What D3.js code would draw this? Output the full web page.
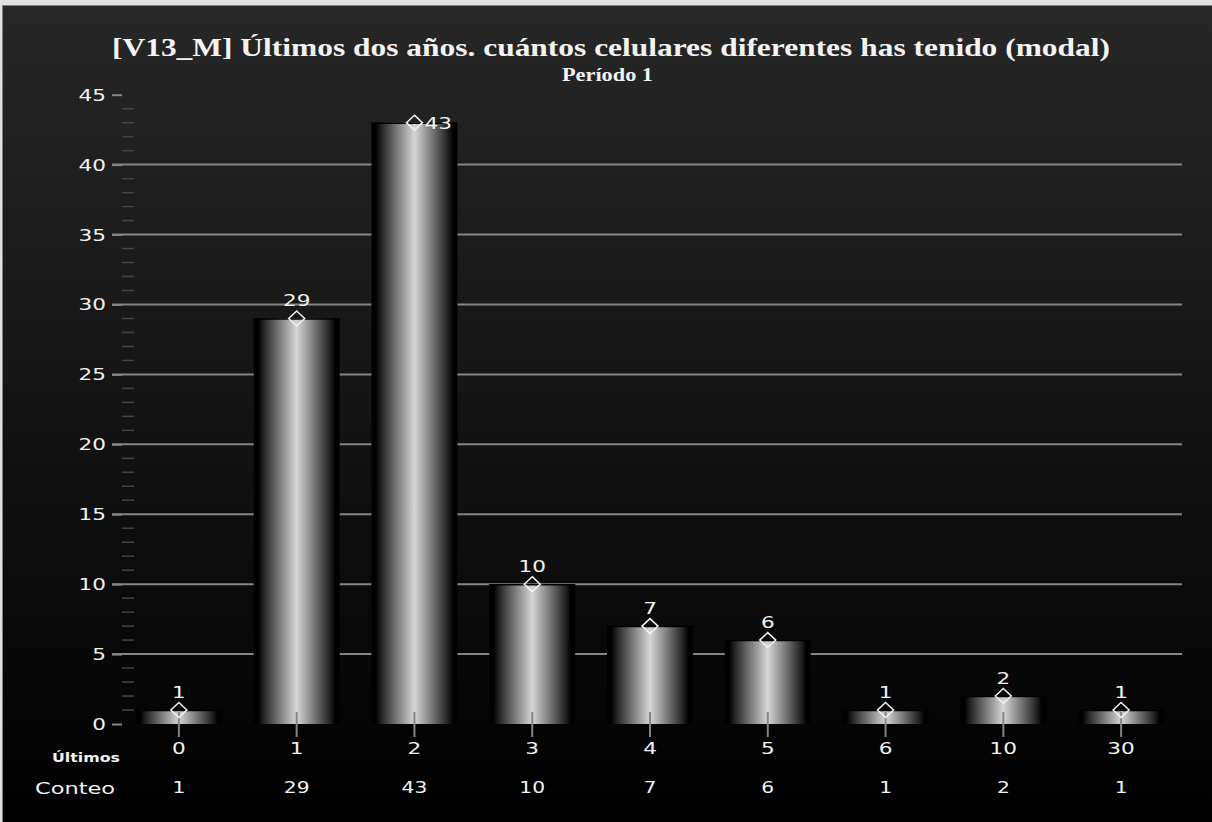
<!DOCTYPE html>
<html><head><meta charset="utf-8">
<script src="https://cdn.jsdelivr.net/npm/d3@7"></script>
<style>html,body{margin:0;padding:0;background:#e0e0e0;}svg{display:block;}</style>
</head><body>
<script>
const categories = ["0","1","2","3","4","5","6","10","30"];
const counts = [1,29,43,10,7,6,1,2,1];
const yTicks = [0,5,10,15,20,25,30,35,40,45];
const title = "[V13_M] Últimos dos años. cuántos celulares diferentes has tenido (modal)";
const subtitle = "Período 1";
const rowLabelCat = "Últimos";
const rowLabelCount = "Conteo";

const W = 1212, H = 822;
const svg = d3.select("body").append("svg").attr("width", W).attr("height", H);
const defs = svg.append("defs");

const bg = defs.append("linearGradient").attr("id","bg").attr("x1",0).attr("y1",0).attr("x2",0).attr("y2",1);
bg.append("stop").attr("offset","0%").attr("stop-color","#272727");
bg.append("stop").attr("offset","100%").attr("stop-color","#000");

const bar = defs.append("linearGradient").attr("id","bar").attr("x1",0).attr("y1",0).attr("x2",1).attr("y2",0);
[[0,"#000"],[0.05,"#000"],[0.12,"#262626"],[0.3,"#7a7a7a"],[0.5,"#d6d6d6"],[0.7,"#7a7a7a"],[0.88,"#262626"],[0.95,"#000"],[1,"#000"]]
  .forEach(([o,c]) => bar.append("stop").attr("offset", o).attr("stop-color", c));

// frame
svg.append("rect").attr("x",0).attr("y",0).attr("width",W).attr("height",H).attr("fill","#e0e0e0");
svg.append("rect").attr("x",2).attr("y",5).attr("width",W-2).attr("height",H-5).attr("fill","#808080");
svg.append("rect").attr("x",3).attr("y",6).attr("width",W-3).attr("height",H-6).attr("fill","url(#bg)");

const x = d3.scaleBand().domain(categories).range([120, 1180]).paddingInner(0.27).paddingOuter(0.135);
const y = d3.scaleLinear().domain([0,45]).range([724, 94.7]);

const sans = "'DejaVu Sans', sans-serif";
const SX = 1.35;
function wideText(g, tx, ty, txt, size, anchor, weight) {
  return g.append("text")
    .attr("transform", `translate(${tx},${ty}) scale(${SX},1)`)
    .attr("text-anchor", anchor)
    .attr("font-family", sans)
    .attr("font-size", size)
    .attr("font-weight", weight || "normal")
    .attr("fill", "#f2f2f2")
    .text(txt);
}

// gridlines
svg.append("g").selectAll("line").data(yTicks.filter(t => t > 0 && t < 45)).join("line")
  .attr("x1",112).attr("x2",1182).attr("y1",d=>y(d)).attr("y2",d=>y(d))
  .attr("stroke","#858585").attr("stroke-width",2);

// y axis major ticks
const yAxis = d3.axisLeft(y).tickValues(yTicks).tickSize(0).tickPadding(0);
const yg = svg.append("g").attr("transform","translate(112,0)").call(yAxis);
yg.select(".domain").remove();
yg.selectAll(".tick text").remove();
yg.selectAll(".tick").append("line").attr("x1",0).attr("x2",10).attr("stroke","#858585").attr("stroke-width",2);
yTicks.forEach(t => wideText(svg, 106, y(t)+6, String(t), 16, "end"));

// minor ticks
const minor = d3.range(0,46).filter(v => v % 5 !== 0);
svg.append("g").selectAll("line").data(minor).join("line")
  .attr("x1",122).attr("x2",134).attr("y1",d=>y(d)).attr("y2",d=>y(d))
  .attr("stroke","#444").attr("stroke-width",1.5);

// bars
svg.append("g").selectAll("rect").data(counts).join("rect")
  .attr("x",(d,i)=>x(categories[i])).attr("width",x.bandwidth())
  .attr("y",d=>y(d)).attr("height",d=>y(0)-y(d))
  .attr("fill","url(#bar)");
svg.append("g").selectAll("line").data(counts).join("line")
  .attr("x1",(d,i)=>x(categories[i])).attr("x2",(d,i)=>x(categories[i])+x.bandwidth())
  .attr("y1",d=>y(d)+0.5).attr("y2",d=>y(d)+0.5).attr("stroke","#000").attr("stroke-width",1.5);

// x ticks
const cx = c => x(c) + x.bandwidth()/2;
svg.append("g").selectAll("line").data(categories).join("line")
  .attr("x1",cx).attr("x2",cx).attr("y1",712).attr("y2",737)
  .attr("stroke","#858585").attr("stroke-width",2);

// diamonds
svg.append("g").selectAll("path").data(counts).join("path")
  .attr("d",(d,i)=>{const X=cx(categories[i]), Y=y(d); return `M${X},${Y-7.5}L${X+8},${Y}L${X},${Y+7.5}L${X-8},${Y}Z`;})
  .attr("fill","none").attr("stroke","#f2f2f2").attr("stroke-width",1.5);

// value labels
counts.forEach((d,i) => {
  const X = cx(categories[i]), Y = y(d);
  if (Y - 30 < y(45)) wideText(svg, X+10, Y+6, String(d), 16, "start");
  else wideText(svg, X, Y-12, String(d), 16, "middle");
});

// table rows
categories.forEach((c,i) => {
  wideText(svg, cx(c), 754, c, 16, "middle");
  wideText(svg, cx(c), 793, String(counts[i]), 15, "middle");
});
svg.append("text").attr("x",52).attr("y",762).attr("font-family",sans).attr("font-size",12)
  .attr("font-weight","bold").attr("fill","#f2f2f2").attr("textLength",68).attr("lengthAdjust","spacingAndGlyphs").text(rowLabelCat);
svg.append("text").attr("x",35).attr("y",794).attr("font-family",sans).attr("font-size",16)
  .attr("fill","#f2f2f2").attr("textLength",80).attr("lengthAdjust","spacingAndGlyphs").text(rowLabelCount);

// titles
svg.append("text").attr("x",112).attr("y",55.5).attr("font-family","'Liberation Serif', serif")
  .attr("font-size",26).attr("font-weight","bold").attr("fill","#f4f4f4")
  .attr("textLength",998).attr("lengthAdjust","spacingAndGlyphs").text(title);
svg.append("text").attr("x",562).attr("y",81).attr("font-family","'Liberation Serif', serif")
  .attr("font-size",19).attr("font-weight","bold").attr("fill","#f4f4f4")
  .attr("textLength",91).attr("lengthAdjust","spacingAndGlyphs").text(subtitle);
</script>
</body></html>
